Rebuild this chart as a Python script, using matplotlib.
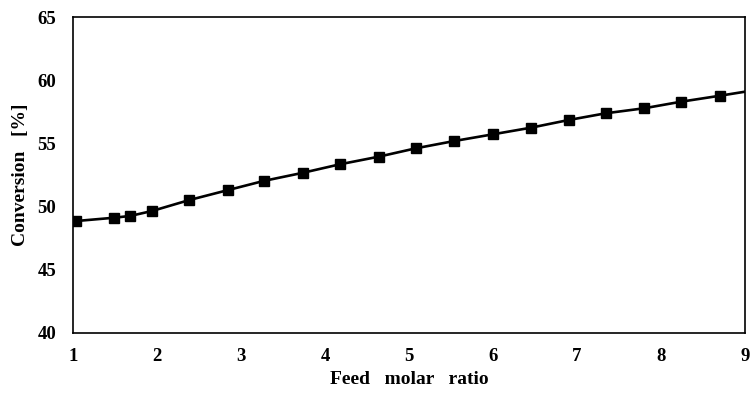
import matplotlib
matplotlib.use("Agg")
import matplotlib.pyplot as plt

# Feed molar ratio vs. conversion
ratio = [1.04, 1.49, 1.68, 1.94, 2.385, 2.847, 3.27, 3.74, 4.18, 4.64,
         5.08, 5.54, 6.00, 6.45, 6.90, 7.34, 7.80, 8.24, 8.70]
conversion = [48.86, 49.12, 49.26, 49.65, 50.52, 51.31, 52.03, 52.68, 53.35, 53.95,
              54.61, 55.19, 55.72, 56.24, 56.85, 57.38, 57.78, 58.30, 58.77]

# smooth trend curve spanning the full axis range
curve_x = [1.0] + ratio + [9.0]
curve_y = [48.83] + conversion + [59.09]

x_ticks = [1, 2, 3, 4, 5, 6, 7, 8, 9]
y_ticks = [40, 45, 50, 55, 60, 65]

plt.rcParams['font.family'] = ['Liberation Serif', 'DejaVu Serif']
plt.rcParams['font.weight'] = 'bold'

fig = plt.figure(figsize=(7.52, 3.94), dpi=100)
ax = fig.add_axes([73 / 752, 1 - 333 / 394, (745 - 73) / 752, (333 - 17) / 394])

ax.plot(curve_x, curve_y, color='black', lw=1.9, zorder=2)
ax.plot(ratio, conversion, ls='none', marker='s', ms=7.3, color='black', zorder=3)

ax.set_xlim(1, 9)
ax.set_ylim(40, 65)
ax.set_xticks(x_ticks)
ax.set_yticks(y_ticks)
ax.tick_params(length=0, labelsize=13.5)
for lbl in ax.get_xticklabels() + ax.get_yticklabels():
    lbl.set_fontweight('bold')
ax.tick_params(axis='x', pad=11)
ax.tick_params(axis='y', pad=12)

for s in ax.spines.values():
    s.set_linewidth(1.2)
    s.set_color('black')

ax.set_xlabel('Feed   molar   ratio', fontsize=14, fontweight='bold')
ax.set_ylabel('Conversion   [%]', fontsize=14, fontweight='bold')
ax.xaxis.set_label_coords(0.5, -(379 - 333) / 316, transform=ax.transAxes)
ax.xaxis.label.set_va('center')
ax.yaxis.set_label_coords(-(73 - 20) / 672, (333 - 175) / 316, transform=ax.transAxes)
ax.yaxis.label.set_va('center')

fig.savefig('out.png', dpi=100, facecolor='white')
